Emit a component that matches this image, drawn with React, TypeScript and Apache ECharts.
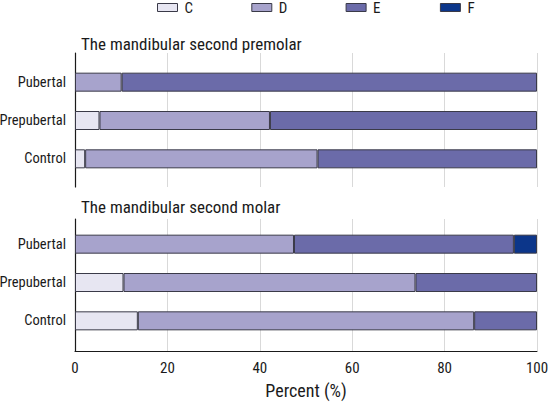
import React, { useEffect, useRef } from "react";
import * as echarts from "echarts";

const categories = ["Control", "Prepubertal", "Pubertal"];
const stageNames = ["C", "D", "E", "F"];
const stageColors = ["#e7e6f2", "#a7a3cc", "#6b6ba9", "#0c368a"];

const premolarC = [2.2, 5.3, 0];
const premolarD = [50.3, 36.9, 10.1];
const premolarE = [47.5, 57.8, 89.9];
const premolarF = [0, 0, 0];

const molarC = [13.6, 10.5, 0];
const molarD = [72.8, 63.2, 47.4];
const molarE = [13.6, 26.3, 47.6];
const molarF = [0, 0, 5.0];

const xTicks = [0, 20, 40, 60, 80, 100];
const panelTitles = ["The mandibular second premolar", "The mandibular second molar"];

const FONT = "'Liberation Sans Narrow', 'Roboto Condensed', 'DejaVu Sans Condensed', 'Arial Narrow', Roboto, sans-serif";
const TXT = "#1a1a1a";

export default function App() {
  const ref = useRef<HTMLDivElement>(null);
  useEffect(() => {
    if (!ref.current) return;
    const chart = echarts.init(ref.current, undefined, { renderer: "svg" });
    const left = 75;
    const width = 462;
    const toNull = (a: number[]) => a.map((v) => (v === 0 ? null : v));
    const panels = [
      [premolarC, premolarD, premolarE, premolarF],
      [molarC, molarD, molarE, molarF],
    ];
    const series: any[] = [];
    panels.forEach((p, pi) => {
      p.forEach((arr, si) => {
        series.push({
          type: "bar",
          name: stageNames[si],
          stack: "s" + pi,
          xAxisIndex: pi * 2 + 1,
          yAxisIndex: pi * 2 + 1,
          barWidth: 19,
          data: toNull(arr),
          itemStyle: { color: stageColors[si], borderColor: "#3a3a48", borderWidth: 1 },
          emphasis: { disabled: true },
        });
      });
    });
    const frameX = (showLabels: boolean, showLine: boolean, gi: number) => ({
      type: "value",
      gridIndex: gi,
      min: 0,
      max: 100,
      interval: 20,
      axisLine: { show: showLine, lineStyle: { color: "#1a1a1a", width: 1 } },
      axisTick: { show: false },
      axisLabel: {
        show: showLabels,
        margin: 9,
        fontFamily: FONT,
        fontSize: 15,
        color: TXT,
        formatter: (v: number) => (xTicks.includes(v) ? String(v) : ""),
      },
      splitLine: { show: true, lineStyle: { color: "#d9d9d9", width: 1 } },
    });
    const hiddenX = (gi: number) => ({ type: "value", gridIndex: gi, min: 0, max: 100, show: false });
    const frameY = (gi: number) => ({
      type: "value",
      gridIndex: gi,
      min: 0,
      max: 1,
      axisLine: { show: true, lineStyle: { color: "#1a1a1a", width: 1.2 } },
      axisTick: { show: false },
      axisLabel: { show: false },
      splitLine: { show: false },
    });
    const catY = (gi: number) => ({
      type: "category",
      gridIndex: gi,
      data: categories,
      axisLine: { show: false },
      axisTick: { show: false },
      axisLabel: { margin: 9, fontFamily: FONT, fontSize: 14.5, color: TXT },
    });
    const legends = stageNames.map((n, i) => ({
      data: [n],
      left: 152 + i * 94.3,
      top: -5,
      itemWidth: 20,
      itemHeight: 8,
      itemGap: 0,
      icon: "rect",
      selectedMode: false,
      itemStyle: { borderColor: "#3a3a48", borderWidth: 1 },
      textStyle: { fontFamily: FONT, fontSize: 15, color: TXT, padding: [0, 0, 0, 2] },
    }));
    const xAxis2 = frameX(true, true, 2) as any;
    xAxis2.name = "Percent (%)";
    xAxis2.nameLocation = "middle";
    xAxis2.nameGap = 30;
    xAxis2.nameTextStyle = { fontFamily: FONT, fontSize: 18, color: TXT, verticalAlign: "top" };
    const g = (top: number, height: number) => ({ left, width, top, height, outerBoundsMode: "none", containLabel: false });
    chart.setOption({
      animation: false,
      textStyle: { fontFamily: FONT },
      legend: legends,
      title: [
        { text: panelTitles[0], left: 76, top: 30, textStyle: { fontFamily: FONT, fontSize: 17, fontWeight: "normal", color: TXT } },
        { text: panelTitles[1], left: 76, top: 193, textStyle: { fontFamily: FONT, fontSize: 17, fontWeight: "normal", color: TXT } },
      ],
      grid: [g(53, 134), g(63, 115), g(219, 132), g(225, 115)],
      xAxis: [frameX(false, false, 0), hiddenX(1), xAxis2, hiddenX(3)],
      yAxis: [frameY(0), catY(1), frameY(2), catY(3)],
      series,
    });
    return () => chart.dispose();
  }, []);
  return (
    <div
      ref={ref}
      style={{ position: "fixed", left: 0, top: 0, width: 550, height: 413, background: "#fff" }}
    />
  );
}
